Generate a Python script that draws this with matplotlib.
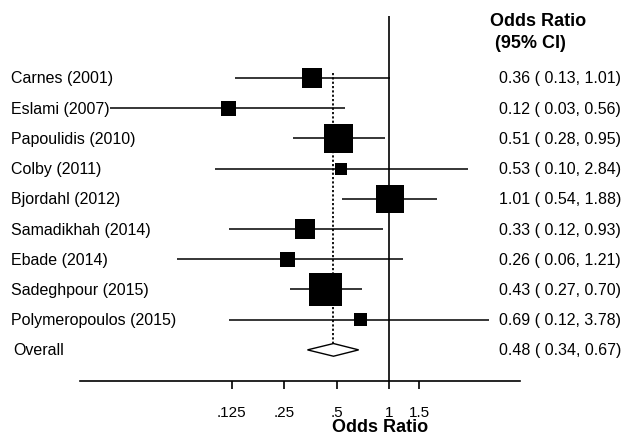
import matplotlib
matplotlib.use("Agg")
import matplotlib.pyplot as plt
import matplotlib.transforms as mtransforms
import numpy as np

plt.rcParams['font.family'] = ['Liberation Sans', 'DejaVu Sans']

studies = ['Carnes (2001)', 'Eslami (2007)', 'Papoulidis (2010)', 'Colby (2011)',
           'Bjordahl (2012)', 'Samadikhah (2014)', 'Ebade (2014)',
           'Sadeghpour (2015)', 'Polymeropoulos (2015)']
odds = [0.36, 0.12, 0.51, 0.53, 1.01, 0.33, 0.26, 0.43, 0.69]
ci_low = [0.13, 0.025, 0.28, 0.10, 0.54, 0.12, 0.06, 0.27, 0.12]
ci_high = [1.01, 0.56, 0.95, 2.84, 1.88, 0.93, 1.21, 0.70, 3.78]
weights = [9.4, 5.3, 19.7, 3.4, 18.3, 9.4, 5.3, 25.5, 4.0]

overall = 0.48
overall_low = 0.34
overall_high = 0.67

tick_vals = [0.125, 0.25, 0.5, 1, 1.5]
tick_labels = ['.125', '.25', '.5', '1', '1.5']

W, H = 627, 435
fig = plt.figure(figsize=(W / 100, H / 100), dpi=100)
ax = fig.add_axes([80 / W, (H - 382) / H, 440 / W, 365 / H])
ax.set_xscale('log')
ax.set_xlim(0.0167, 5.68)
ax.set_ylim(10.03, -2.05)

n = len(studies)
rows = np.arange(n)

# CI lines
ax.hlines(rows, ci_low, ci_high, color='black', lw=1.1, zorder=2)

# weight squares (area ~ weight)
side_px = 6.53 * np.sqrt(weights)
ax.scatter(odds, rows, marker='s', s=(side_px * 0.72) ** 2, color='black',
           linewidths=0, zorder=3)

# null line and overall dotted line
ax.vlines(1, -2.05, 10.03, color='black', lw=1.2, zorder=1)
ax.vlines(overall, -0.15, n - 0.1, color='black', lw=1.3,
          linestyles=(0, (1.2, 1.2)), zorder=1)

# overall diamond
dy = 0.21
ax.fill([overall_low, overall, overall_high, overall],
        [n, n - dy, n, n + dy], facecolor='white', edgecolor='black',
        lw=1.0, zorder=4)

for s in ['top', 'right', 'left']:
    ax.spines[s].set_visible(False)
ax.spines['bottom'].set_linewidth(1.2)
ax.set_yticks([])
ax.xaxis.set_minor_locator(matplotlib.ticker.NullLocator())
ax.set_xticks(tick_vals)
ax.set_xticklabels(tick_labels)
ax.xaxis.set_ticks_position('bottom')
ax.tick_params(axis='x', which='major', bottom=True, direction='out',
               length=6, width=1.2, color='black', labelsize=11, pad=11)
ax.set_xlabel('Odds Ratio', fontsize=13, fontweight='bold')
ax.xaxis.set_label_coords((380 - 80) / 440, (382 - 419) / 365)

trans = mtransforms.blended_transform_factory(fig.transFigure, ax.transData)
for i, name in enumerate(studies):
    ax.text(11 / W, i, name, transform=trans, fontsize=11.5, va='center',
            ha='left', clip_on=False)
    ax.text(499 / W, i, '%.2f ( %.2f, %.2f)' % (odds[i], ci_low[i], ci_high[i]),
            transform=trans, fontsize=11.5, va='center', ha='left',
            clip_on=False)
ax.text(13 / W, n, 'Overall', transform=trans, fontsize=11.5, va='center',
        ha='left', clip_on=False)
ax.text(499 / W, n, '%.2f ( %.2f, %.2f)' % (overall, overall_low, overall_high),
        transform=trans, fontsize=11.5, va='center', ha='left', clip_on=False)

fig.text(490 / W, 1 - 22 / H, 'Odds Ratio', fontsize=13, fontweight='bold',
         va='center', ha='left')
fig.text(490 / W, 1 - 43 / H, ' (95% CI)', fontsize=13, fontweight='bold',
         va='center', ha='left')

fig.savefig('out.png', dpi=100)
